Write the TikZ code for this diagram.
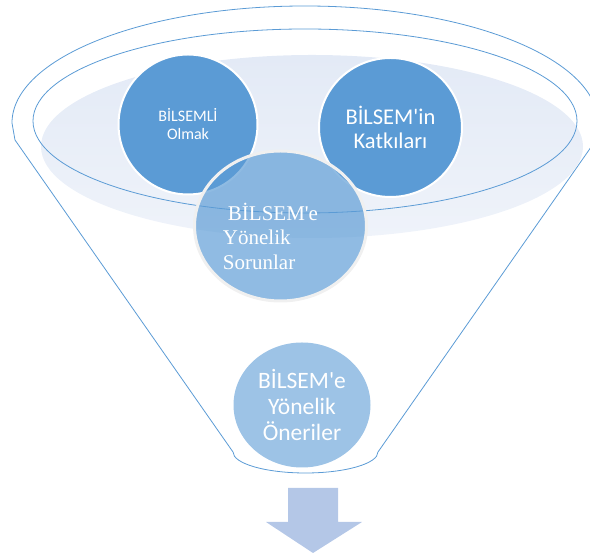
\documentclass[tikz,border=0pt]{standalone}
\usepackage{fontspec}
\setmainfont{Carlito}
\newfontfamily\timesfont{Liberation Serif}
\usetikzlibrary{shapes.geometric}
\definecolor{funnelblue}{HTML}{5B9BD5}
\definecolor{paleblue}{HTML}{9DC3E6}
\definecolor{arrowblue}{HTML}{B4C7E7}
\definecolor{bowltop}{HTML}{E3EAF6}
\definecolor{bowlbottom}{HTML}{EFF3FA}
\tikzset{%
  bubble/.style      = {shape=ellipse, draw=white, line width=2pt,%
                        fill=funnelblue, text=white, align=center, inner sep=0pt},%
  topbubble/.style   = {bubble},%
  glassbubble/.style = {bubble, draw=gray!12, line width=3pt,%
                        fill opacity=0.68, text opacity=1},%
  palebubble/.style  = {bubble, fill=paleblue, draw=none},%
  rim/.style         = {draw=funnelblue, line width=0.8pt}%
}
\begin{document}
\begin{tikzpicture}[x=1pt,y=1pt,
	every node/.style = {text=white}]
	\useasboundingbox (0,0) rectangle (590,556);
	\clip (0,0) rectangle (590,556);
	% the funnel
	\draw [rim] (233,104) -- (15,416) -- (12,433)
		arc [start angle=180, end angle=0, x radius=293pt, y radius=117pt]
		-- (596,416) -- (378,104)
		arc [start angle=0, end angle=-180, x radius=72.5pt, y radius=21pt];
	\shade [top color=bowltop, bottom color=bowlbottom] (312,409.5)
		ellipse [x radius=271pt, y radius=91.5pt];
	\draw [rim] (305,435) ellipse [x radius=272pt, y radius=92pt];
	% bubbles
	\node [topbubble, minimum width=139pt, minimum height=140pt,
		font=\fontsize{16}{18}\selectfont] (olmak) at (188,431.5)
		{BİLSEMLİ\\Olmak};
	\node [topbubble, minimum width=143pt, minimum height=139pt,
		font=\fontsize{22.5}{24.5}\selectfont] (katki) at (390.5,428.5)
		{BİLSEM\textquotesingle in\\Katkıları};
	\node [glassbubble, minimum width=172pt, minimum height=150pt] (sorun) at (280.5,330) {};
	\node [align=left, inner sep=0pt, font=\timesfont\fontsize{21}{24.5}\selectfont]
		(sorunmetin) at ([xshift=-10pt,yshift=-10pt]sorun.center)
		{\hspace{5pt}BİLSEM\textquotesingle e\\Yönelik\\Sorunlar};
	\node [palebubble, minimum width=137pt, minimum height=125pt,
		font=\fontsize{23.5}{26}\selectfont] (oneri) at (302,151)
		{BİLSEM\textquotesingle e\\Yönelik\\Öneriler};
	% the arrow below
	\fill [arrowblue] (288,68) -- (338,68) -- (338,34) -- (362,34)
		-- (313,3) -- (266,34) -- (288,34) -- cycle;
\end{tikzpicture}
\end{document}
